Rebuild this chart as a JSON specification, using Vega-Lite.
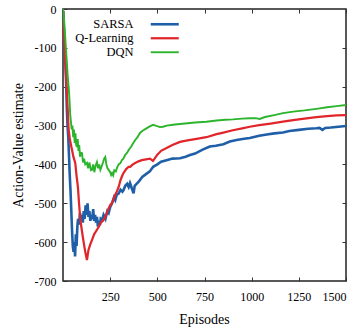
{
  "$schema": "https://vega.github.io/schema/vega-lite/v6.json",
  "width": 283,
  "height": 272,
  "autosize": "none",
  "padding": {"left": 63, "top": 9, "right": 15, "bottom": 52},
  "background": "white",
  "config": {
    "font": "Liberation Serif",
    "view": {"stroke": "#222", "strokeWidth": 1.5},
    "axis": {"labelFont": "Liberation Serif", "titleFont": "Liberation Serif", "labelColor": "#000", "titleColor": "#000", "labelFontSize": 12, "titleFontSize": 14, "titleFontWeight": "normal", "grid": false, "domain": false, "tickColor": "#333", "tickSize": -4, "tickWidth": 1},
    "legend": {"labelFont": "Liberation Serif"}
  },
  "datasets": {
    "d": [
      {"ep":1,"v":-5,"algo":"SARSA"},{"ep":4,"v":-40,"algo":"SARSA"},{"ep":8,"v":-90,"algo":"SARSA"},{"ep":12,"v":-130,"algo":"SARSA"},{"ep":16,"v":-180,"algo":"SARSA"},{"ep":20,"v":-250,"algo":"SARSA"},{"ep":24,"v":-300,"algo":"SARSA"},{"ep":28,"v":-330,"algo":"SARSA"},{"ep":32,"v":-380,"algo":"SARSA"},{"ep":36,"v":-430,"algo":"SARSA"},{"ep":40,"v":-470,"algo":"SARSA"},{"ep":44,"v":-520,"algo":"SARSA"},{"ep":48,"v":-570,"algo":"SARSA"},{"ep":52,"v":-610,"algo":"SARSA"},{"ep":56,"v":-625,"algo":"SARSA"},{"ep":60,"v":-600,"algo":"SARSA"},{"ep":64,"v":-637,"algo":"SARSA"},{"ep":68,"v":-580,"algo":"SARSA"},{"ep":72,"v":-610,"algo":"SARSA"},{"ep":76,"v":-560,"algo":"SARSA"},{"ep":80,"v":-540,"algo":"SARSA"},{"ep":85,"v":-555,"algo":"SARSA"},{"ep":90,"v":-525,"algo":"SARSA"},{"ep":95,"v":-545,"algo":"SARSA"},{"ep":100,"v":-530,"algo":"SARSA"},{"ep":105,"v":-550,"algo":"SARSA"},{"ep":110,"v":-520,"algo":"SARSA"},{"ep":115,"v":-540,"algo":"SARSA"},{"ep":120,"v":-505,"algo":"SARSA"},{"ep":125,"v":-530,"algo":"SARSA"},{"ep":130,"v":-500,"algo":"SARSA"},{"ep":135,"v":-535,"algo":"SARSA"},{"ep":140,"v":-520,"algo":"SARSA"},{"ep":145,"v":-545,"algo":"SARSA"},{"ep":150,"v":-530,"algo":"SARSA"},{"ep":155,"v":-540,"algo":"SARSA"},{"ep":160,"v":-515,"algo":"SARSA"},{"ep":165,"v":-545,"algo":"SARSA"},{"ep":170,"v":-530,"algo":"SARSA"},{"ep":175,"v":-550,"algo":"SARSA"},{"ep":180,"v":-535,"algo":"SARSA"},{"ep":185,"v":-560,"algo":"SARSA"},{"ep":190,"v":-545,"algo":"SARSA"},{"ep":196,"v":-556,"algo":"SARSA"},{"ep":200,"v":-540,"algo":"SARSA"},{"ep":207,"v":-543,"algo":"SARSA"},{"ep":215,"v":-530,"algo":"SARSA"},{"ep":225,"v":-540,"algo":"SARSA"},{"ep":235,"v":-520,"algo":"SARSA"},{"ep":242,"v":-525,"algo":"SARSA"},{"ep":250,"v":-510,"algo":"SARSA"},{"ep":260,"v":-500,"algo":"SARSA"},{"ep":270,"v":-485,"algo":"SARSA"},{"ep":277,"v":-492,"algo":"SARSA"},{"ep":285,"v":-478,"algo":"SARSA"},{"ep":295,"v":-475,"algo":"SARSA"},{"ep":305,"v":-465,"algo":"SARSA"},{"ep":315,"v":-470,"algo":"SARSA"},{"ep":321,"v":-466,"algo":"SARSA"},{"ep":330,"v":-455,"algo":"SARSA"},{"ep":340,"v":-450,"algo":"SARSA"},{"ep":348,"v":-458,"algo":"SARSA"},{"ep":355,"v":-448,"algo":"SARSA"},{"ep":365,"v":-462,"algo":"SARSA"},{"ep":374,"v":-474,"algo":"SARSA"},{"ep":380,"v":-455,"algo":"SARSA"},{"ep":390,"v":-450,"algo":"SARSA"},{"ep":400,"v":-445,"algo":"SARSA"},{"ep":408,"v":-440,"algo":"SARSA"},{"ep":420,"v":-432,"algo":"SARSA"},{"ep":440,"v":-425,"algo":"SARSA"},{"ep":460,"v":-418,"algo":"SARSA"},{"ep":478,"v":-406,"algo":"SARSA"},{"ep":500,"v":-400,"algo":"SARSA"},{"ep":520,"v":-393,"algo":"SARSA"},{"ep":549,"v":-389,"algo":"SARSA"},{"ep":580,"v":-385,"algo":"SARSA"},{"ep":620,"v":-384,"algo":"SARSA"},{"ep":650,"v":-380,"algo":"SARSA"},{"ep":673,"v":-376,"algo":"SARSA"},{"ep":700,"v":-372,"algo":"SARSA"},{"ep":740,"v":-362,"algo":"SARSA"},{"ep":778,"v":-354,"algo":"SARSA"},{"ep":810,"v":-352,"algo":"SARSA"},{"ep":850,"v":-348,"algo":"SARSA"},{"ep":884,"v":-341,"algo":"SARSA"},{"ep":920,"v":-337,"algo":"SARSA"},{"ep":960,"v":-334,"algo":"SARSA"},{"ep":990,"v":-332,"algo":"SARSA"},{"ep":1040,"v":-326,"algo":"SARSA"},{"ep":1080,"v":-323,"algo":"SARSA"},{"ep":1120,"v":-320,"algo":"SARSA"},{"ep":1166,"v":-318,"algo":"SARSA"},{"ep":1200,"v":-314,"algo":"SARSA"},{"ep":1250,"v":-311,"algo":"SARSA"},{"ep":1300,"v":-308,"algo":"SARSA"},{"ep":1343,"v":-307,"algo":"SARSA"},{"ep":1360,"v":-306,"algo":"SARSA"},{"ep":1375,"v":-311,"algo":"SARSA"},{"ep":1390,"v":-306,"algo":"SARSA"},{"ep":1420,"v":-305,"algo":"SARSA"},{"ep":1460,"v":-303,"algo":"SARSA"},{"ep":1500,"v":-301,"algo":"SARSA"},
      {"ep":1,"v":-5,"algo":"Q-Learning"},{"ep":5,"v":-50,"algo":"Q-Learning"},{"ep":10,"v":-110,"algo":"Q-Learning"},{"ep":15,"v":-160,"algo":"Q-Learning"},{"ep":20,"v":-210,"algo":"Q-Learning"},{"ep":25,"v":-260,"algo":"Q-Learning"},{"ep":30,"v":-311,"algo":"Q-Learning"},{"ep":35,"v":-330,"algo":"Q-Learning"},{"ep":40,"v":-345,"algo":"Q-Learning"},{"ep":48,"v":-363,"algo":"Q-Learning"},{"ep":55,"v":-380,"algo":"Q-Learning"},{"ep":65,"v":-396,"algo":"Q-Learning"},{"ep":72,"v":-430,"algo":"Q-Learning"},{"ep":79,"v":-458,"algo":"Q-Learning"},{"ep":85,"v":-500,"algo":"Q-Learning"},{"ep":92,"v":-543,"algo":"Q-Learning"},{"ep":100,"v":-570,"algo":"Q-Learning"},{"ep":110,"v":-602,"algo":"Q-Learning"},{"ep":118,"v":-625,"algo":"Q-Learning"},{"ep":127,"v":-646,"algo":"Q-Learning"},{"ep":135,"v":-620,"algo":"Q-Learning"},{"ep":145,"v":-605,"algo":"Q-Learning"},{"ep":154,"v":-594,"algo":"Q-Learning"},{"ep":165,"v":-580,"algo":"Q-Learning"},{"ep":175,"v":-572,"algo":"Q-Learning"},{"ep":189,"v":-561,"algo":"Q-Learning"},{"ep":200,"v":-550,"algo":"Q-Learning"},{"ep":212,"v":-545,"algo":"Q-Learning"},{"ep":224,"v":-535,"algo":"Q-Learning"},{"ep":240,"v":-515,"algo":"Q-Learning"},{"ep":250,"v":-505,"algo":"Q-Learning"},{"ep":260,"v":-499,"algo":"Q-Learning"},{"ep":275,"v":-480,"algo":"Q-Learning"},{"ep":285,"v":-470,"algo":"Q-Learning"},{"ep":295,"v":-458,"algo":"Q-Learning"},{"ep":305,"v":-440,"algo":"Q-Learning"},{"ep":315,"v":-428,"algo":"Q-Learning"},{"ep":321,"v":-422,"algo":"Q-Learning"},{"ep":335,"v":-412,"algo":"Q-Learning"},{"ep":348,"v":-406,"algo":"Q-Learning"},{"ep":356,"v":-406,"algo":"Q-Learning"},{"ep":370,"v":-400,"algo":"Q-Learning"},{"ep":383,"v":-396,"algo":"Q-Learning"},{"ep":400,"v":-392,"algo":"Q-Learning"},{"ep":418,"v":-389,"algo":"Q-Learning"},{"ep":440,"v":-387,"algo":"Q-Learning"},{"ep":461,"v":-385,"algo":"Q-Learning"},{"ep":477,"v":-391,"algo":"Q-Learning"},{"ep":500,"v":-375,"algo":"Q-Learning"},{"ep":520,"v":-365,"algo":"Q-Learning"},{"ep":549,"v":-358,"algo":"Q-Learning"},{"ep":580,"v":-350,"algo":"Q-Learning"},{"ep":620,"v":-342,"algo":"Q-Learning"},{"ep":660,"v":-338,"algo":"Q-Learning"},{"ep":700,"v":-335,"algo":"Q-Learning"},{"ep":760,"v":-330,"algo":"Q-Learning"},{"ep":814,"v":-322,"algo":"Q-Learning"},{"ep":850,"v":-318,"algo":"Q-Learning"},{"ep":900,"v":-312,"algo":"Q-Learning"},{"ep":950,"v":-307,"algo":"Q-Learning"},{"ep":990,"v":-303,"algo":"Q-Learning"},{"ep":1040,"v":-299,"algo":"Q-Learning"},{"ep":1100,"v":-295,"algo":"Q-Learning"},{"ep":1166,"v":-290,"algo":"Q-Learning"},{"ep":1220,"v":-286,"algo":"Q-Learning"},{"ep":1280,"v":-282,"algo":"Q-Learning"},{"ep":1343,"v":-278,"algo":"Q-Learning"},{"ep":1400,"v":-276,"algo":"Q-Learning"},{"ep":1450,"v":-274,"algo":"Q-Learning"},{"ep":1500,"v":-273,"algo":"Q-Learning"},
      {"ep":1,"v":0,"algo":"DQN"},{"ep":3,"v":-10,"algo":"DQN"},{"ep":6,"v":-30,"algo":"DQN"},{"ep":10,"v":-60,"algo":"DQN"},{"ep":14,"v":-90,"algo":"DQN"},{"ep":18,"v":-120,"algo":"DQN"},{"ep":22,"v":-150,"algo":"DQN"},{"ep":26,"v":-180,"algo":"DQN"},{"ep":30,"v":-200,"algo":"DQN"},{"ep":34,"v":-230,"algo":"DQN"},{"ep":38,"v":-270,"algo":"DQN"},{"ep":42,"v":-290,"algo":"DQN"},{"ep":46,"v":-310,"algo":"DQN"},{"ep":50,"v":-300,"algo":"DQN"},{"ep":54,"v":-330,"algo":"DQN"},{"ep":58,"v":-310,"algo":"DQN"},{"ep":62,"v":-345,"algo":"DQN"},{"ep":66,"v":-320,"algo":"DQN"},{"ep":70,"v":-350,"algo":"DQN"},{"ep":74,"v":-355,"algo":"DQN"},{"ep":78,"v":-335,"algo":"DQN"},{"ep":82,"v":-365,"algo":"DQN"},{"ep":86,"v":-350,"algo":"DQN"},{"ep":90,"v":-380,"algo":"DQN"},{"ep":95,"v":-370,"algo":"DQN"},{"ep":101,"v":-371,"algo":"DQN"},{"ep":106,"v":-395,"algo":"DQN"},{"ep":112,"v":-385,"algo":"DQN"},{"ep":118,"v":-400,"algo":"DQN"},{"ep":127,"v":-396,"algo":"DQN"},{"ep":133,"v":-410,"algo":"DQN"},{"ep":140,"v":-395,"algo":"DQN"},{"ep":148,"v":-415,"algo":"DQN"},{"ep":154,"v":-414,"algo":"DQN"},{"ep":160,"v":-400,"algo":"DQN"},{"ep":166,"v":-420,"algo":"DQN"},{"ep":172,"v":-405,"algo":"DQN"},{"ep":180,"v":-394,"algo":"DQN"},{"ep":186,"v":-410,"algo":"DQN"},{"ep":192,"v":-400,"algo":"DQN"},{"ep":198,"v":-414,"algo":"DQN"},{"ep":205,"v":-405,"algo":"DQN"},{"ep":212,"v":-395,"algo":"DQN"},{"ep":218,"v":-385,"algo":"DQN"},{"ep":224,"v":-381,"algo":"DQN"},{"ep":230,"v":-400,"algo":"DQN"},{"ep":236,"v":-410,"algo":"DQN"},{"ep":242,"v":-414,"algo":"DQN"},{"ep":250,"v":-420,"algo":"DQN"},{"ep":255,"v":-427,"algo":"DQN"},{"ep":260,"v":-422,"algo":"DQN"},{"ep":266,"v":-428,"algo":"DQN"},{"ep":272,"v":-415,"algo":"DQN"},{"ep":280,"v":-418,"algo":"DQN"},{"ep":286,"v":-409,"algo":"DQN"},{"ep":295,"v":-400,"algo":"DQN"},{"ep":305,"v":-396,"algo":"DQN"},{"ep":312,"v":-389,"algo":"DQN"},{"ep":320,"v":-385,"algo":"DQN"},{"ep":330,"v":-375,"algo":"DQN"},{"ep":340,"v":-370,"algo":"DQN"},{"ep":348,"v":-363,"algo":"DQN"},{"ep":360,"v":-355,"algo":"DQN"},{"ep":370,"v":-347,"algo":"DQN"},{"ep":383,"v":-337,"algo":"DQN"},{"ep":395,"v":-330,"algo":"DQN"},{"ep":408,"v":-319,"algo":"DQN"},{"ep":420,"v":-314,"algo":"DQN"},{"ep":440,"v":-308,"algo":"DQN"},{"ep":460,"v":-302,"algo":"DQN"},{"ep":478,"v":-298,"algo":"DQN"},{"ep":495,"v":-301,"algo":"DQN"},{"ep":514,"v":-304,"algo":"DQN"},{"ep":530,"v":-303,"algo":"DQN"},{"ep":550,"v":-300,"algo":"DQN"},{"ep":583,"v":-298,"algo":"DQN"},{"ep":620,"v":-296,"algo":"DQN"},{"ep":660,"v":-294,"algo":"DQN"},{"ep":700,"v":-292,"algo":"DQN"},{"ep":760,"v":-290,"algo":"DQN"},{"ep":814,"v":-287,"algo":"DQN"},{"ep":860,"v":-285,"algo":"DQN"},{"ep":900,"v":-284,"algo":"DQN"},{"ep":950,"v":-282,"algo":"DQN"},{"ep":990,"v":-281,"algo":"DQN"},{"ep":1020,"v":-281,"algo":"DQN"},{"ep":1043,"v":-283,"algo":"DQN"},{"ep":1070,"v":-278,"algo":"DQN"},{"ep":1120,"v":-273,"algo":"DQN"},{"ep":1166,"v":-268,"algo":"DQN"},{"ep":1220,"v":-264,"algo":"DQN"},{"ep":1280,"v":-261,"algo":"DQN"},{"ep":1343,"v":-257,"algo":"DQN"},{"ep":1400,"v":-253,"algo":"DQN"},{"ep":1450,"v":-250,"algo":"DQN"},{"ep":1500,"v":-247,"algo":"DQN"}
    ]
  },
  "data": {"name": "d"},
  "layer": [
    {
      "mark": {"type": "line", "clip": true},
      "encoding": {
        "x": {"field": "ep", "type": "quantitative", "scale": {"domain": [0, 1500], "nice": false, "zero": false},
              "axis": {"orient": "bottom", "title": "Episodes", "values": [250, 500, 750, 1000, 1250, 1500], "labelPadding": 14, "labelFont": "Liberation Serif", "titleFont": "Liberation Serif", "labelExpr": "'' + datum.value", "titleX": 141, "titleY": 42, "titleBaseline": "alphabetic"}},
        "y": {"field": "v", "type": "quantitative", "scale": {"domain": [-700, 0], "nice": false},
              "axis": {"orient": "left", "title": "Action-Value estimate", "values": [0, -100, -200, -300, -400, -500, -600, -700], "labelPadding": 11, "labelFont": "Liberation Serif", "titleFont": "Liberation Serif", "labelExpr": "'' + datum.value", "titleX": -45, "titleY": 136, "titleBaseline": "middle", "titleAngle": -90}},
        "color": {"field": "algo", "type": "nominal",
                  "scale": {"domain": ["SARSA", "Q-Learning", "DQN"], "range": ["#1f5fa8", "#e0262b", "#2cb42c"]},
                  "legend": {"title": null, "orient": "none", "legendX": 95.5, "legendY": 9, "symbolType": "M-4,0H4", "symbolSize": 49, "symbolStrokeWidth": 1.5, "labelAlign": "right", "labelOffset": -37.5, "labelFontSize": 12.5, "labelColor": "#000", "padding": 0, "rowPadding": 1}},
        "strokeWidth": {"field": "algo", "type": "nominal", "scale": {"domain": ["SARSA", "Q-Learning", "DQN"], "range": [2.6, 1.9, 1.9]}, "legend": null},
        "order": {"field": "ep", "type": "quantitative"}
      }
    },
    {
      "mark": {"type": "line", "clip": true, "strokeOpacity": 0},
      "encoding": {
        "x": {"field": "ep", "type": "quantitative", "axis": {"orient": "top", "title": null, "labels": false, "values": [250, 500, 750, 1000, 1250, 1500]}},
        "y": {"field": "v", "type": "quantitative", "axis": {"orient": "right", "title": null, "labels": false, "values": [-100, -200, -300, -400, -500, -600]}},
        "detail": {"field": "algo"}
      }
    }
  ],
  "resolve": {"axis": {"x": "independent", "y": "independent"}}
}
